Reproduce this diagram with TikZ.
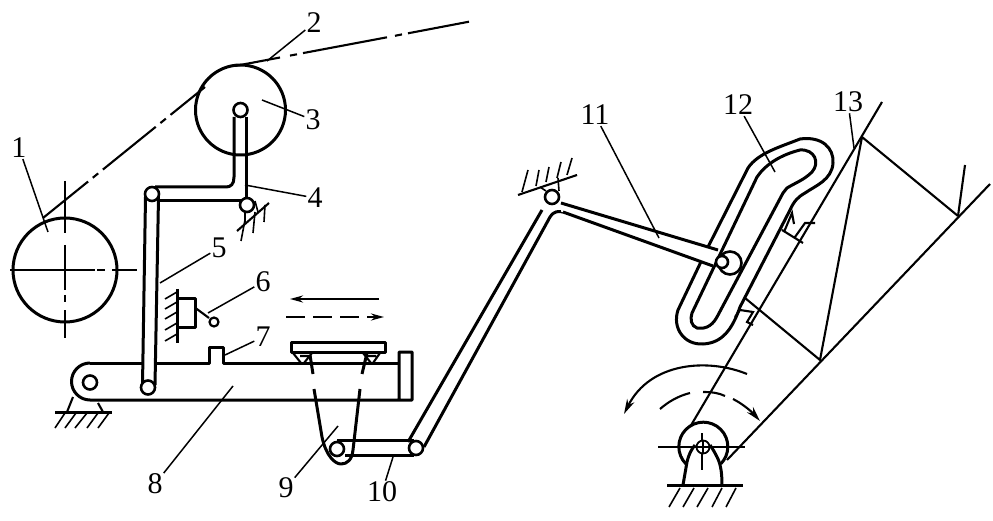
\documentclass[tikz,border=0pt]{standalone}
\usepackage{tikz}
\usepackage{fontspec}
\setmainfont{Liberation Serif}
\usetikzlibrary{arrows.meta}
\begin{document}
\begin{tikzpicture}[x=1pt,y=-1pt,
thickline/.style={line width=3pt, line join=round},
thinline/.style={line width=2.1pt},
leader/.style={line width=1.5pt},
hatchline/.style={line width=1.6pt},
pivot/.style={circle, draw, fill=white, line width=2.6pt, inner sep=0pt, minimum size=14pt},
numlabel/.style={inner sep=1pt, font=\fontsize{30}{30}\selectfont}
]
\useasboundingbox (0,0) rectangle (993,521);

% rolls and yarn
\draw[thickline] (240.5,110) circle [radius=45];
\draw[thickline] (65,270) circle [radius=52];
\draw[hatchline, dash pattern=on 85pt off 2pt on 8pt off 7pt on 99pt] (10,270) -- (137,270);
\draw[hatchline, dash pattern=on 52pt off 12pt on 45pt off 5pt on 7pt off 8pt on 99pt] (65,181) -- (65,338);
\draw[thinline, dash pattern=on 68pt off 6pt on 7pt off 6pt, dash phase=10pt] (43,218) -- (205,87);
\draw[thinline] (236,65.8) -- (280,57.5) (290,55.6) -- (297,54.3) (303,53.1) -- (387,37.3) (395,35.8) -- (402,34.4) (408,33.3) -- (469,21.7);

% arm 4
\draw[thickline] (234,117) -- (234,177) .. controls (234,184) and (231,187) .. (226,187) -- (155,187);
\draw[thickline] (246,117) -- (246,200);
\draw[thickline] (158,200.5) -- (242,200.5);
\node[pivot] (P3) at (240.5,110) {};
\node[pivot] (P4) at (247,205) {};
\draw[thinline] (237,231) -- (269,203);
\draw[hatchline] (245,211) -- (245,222) (255,201) -- (258,212);
\draw[hatchline] (245,220) -- (241,241) (255,212) -- (253,233) (265,205) -- (264,222);

% link 5 and frame 8
\draw[thickline] (145.5,197) -- (142.5,385);
\draw[thickline] (158.5,197) -- (155,385);
\node[pivot] (P5t) at (152,194) {};
\draw[thickline] (90,363) -- (143,363);
\draw[thickline] (157,363) -- (209,363) -- (209,347) -- (223,347) -- (223,363) -- (399,363);
\draw[thickline] (90,363) arc (270:90:18.5) -- (412,400) -- (412,352) -- (399,352) -- (399,400);
\node[pivot] (P8) at (90,382.5) {};
\node[pivot] (P5b) at (148,387.5) {};
\draw[thinline] (73,397) -- (67,412) (98,403) -- (103,412);
\draw[thickline] (55,412) -- (112,412);
\draw[hatchline] (65,413) -- (55,428) (76,413) -- (65,428) (87,413) -- (75,428) (98,413) -- (87,428) (109,413) -- (98,428);

% stop 6 and arrows
\draw[thickline] (177,289) -- (177,343);
\draw[hatchline] (177,292) -- (165,299) (177,302) -- (165,309) (177,312) -- (165,319) (177,323) -- (165,330) (177,334) -- (165,341);
\draw[thickline] (177,299) -- (195.5,299) -- (195.5,327) -- (177,327);
\draw[thinline] (195.5,308) -- (209,318);
\node[pivot, minimum size=9pt, line width=2.2pt] (P6) at (214,322) {};
\draw[thinline, -{Stealth[length=13pt,width=7pt]}] (379,299) -- (290,299);
\draw[thinline, dash pattern=on 19pt off 8pt, -{Stealth[length=13pt,width=7pt]}] (286,317) -- (384,317);

% plate on frame 8
\draw[thickline] (291,342) rectangle (385,352);
\draw[thinline] (293,353) -- (301,363) (312,353) -- (304,363) (300,356) -- (311,356);
\draw[thinline] (380,353) -- (373,363) (363,353) -- (371,363) (365,356) -- (376,356);

% cam 9 and link 10
\draw[thickline] (310,355) -- (313,374) (314,389) -- (322,437) .. controls (326,456) and (335,464) .. (341,464) .. controls (347,464) and (352,460) .. (353,450) -- (360,389) (362,374) -- (367,353);
\draw[thickline] (337,440) -- (414,440) (345,455) -- (414,455);
\draw[thickline] (408,442) -- (542,210);
\draw[thickline] (424,447) -- (550,217) .. controls (554,211) and (558,211) .. (563,212);
\node[pivot] (P9) at (337,449) {};
\node[pivot] (P10) at (416,448) {};

% slot 12
\draw[thickline] (708,247) -- (748,168) .. controls (758,153) and (780,147) .. (800,139) .. controls (822,136) and (834,148) .. (833,163) .. controls (832,180) and (815,186) .. (805,193) .. controls (798,197) and (794,201) .. (790,210) -- (740,307) .. controls (732,330) and (722,343) .. (703,344) .. controls (684,345) and (672,328) .. (678,310) -- cycle;
\draw[thickline] (692,313) -- (757,177) .. controls (765,165) and (780,155) .. (800,150) .. controls (815,149) and (820,163) .. (812,172) .. controls (804,180) and (795,183) .. (787,188) -- (783,193) -- (717,317) .. controls (711,328) and (703,329) .. (697,328) .. controls (691,326) and (690,319) .. (692,313);

% lever 11
\fill[white] (561,203) -- (718,250) -- (713,266) -- (561,211.5) -- cycle;
\draw[thickline] (561,203) -- (718,250) (563,212) -- (713,266);
\node[pivot] (P11) at (552,197) {};
\draw[thinline] (518,195) -- (577,175);
\draw[hatchline] (546,191) -- (540,187) (559,191) -- (558,178);
\draw[hatchline] (522,192) -- (528,170) (536,186) -- (539,170) (546,182) -- (549,167) (557,178) -- (561,162) (567,175) -- (572,158);
\node[pivot, minimum size=23pt] (P12) at (730,263) {};
\node[pivot, minimum size=12pt] (P12i) at (722,262) {};

% lever 13
\draw[thinline] (882,102) -- (690,427);
\draw[thinline] (990,184) -- (727,460);
\draw[thinline] (862,137) -- (958,216) (862,137) -- (820,360) -- (745,298) (965,165) -- (958,216);
\draw[thinline] (782,230) -- (803,243) (784,232) -- (792,213) -- (794,224) (795,237) -- (805,223) -- (815,223);
\draw[thinline] (735,317) -- (740,310) -- (753,312) -- (747,322) -- (753,325);

% bearing of lever 13
\draw[thickline] (686,464) arc (135:405:24.5);
\draw[thinline] (658,447) -- (745,447) (702,433) -- (702,470);
\draw[thickline] (683,485) -- (687,462) .. controls (689,454) and (691,450) .. (695,445) (722,485) .. controls (722,470) and (720,462) .. (716,455) .. controls (714,451) and (712,448) .. (710,445);
\draw[thickline] (667,485) -- (743,485);
\node[pivot, minimum size=13pt, line width=1.8pt] (P13) at (703,447) {};
\draw[hatchline] (696,447) -- (710,447) (703,440) -- (703,454);
\draw[hatchline] (680,488) -- (669,507) (694,488) -- (683,507) (708,488) -- (697,507) (722,488) -- (712,507) (736,488) -- (726,507);
\draw[thinline, -{Stealth[length=15pt,width=8pt]}] (747,374) .. controls (708,358) and (650,362) .. (624,414);
\draw[thinline] (660,409) .. controls (668,402) and (678,396) .. (690,393) (703,392) .. controls (712,392) and (719,393) .. (725,396);
\draw[thinline, -{Stealth[length=15pt,width=8pt]}] (733,399) .. controls (743,404) and (752,412) .. (760,421);

% labels and leaders
\node[numlabel] (L1) at (19,148) {1};
\node[numlabel] (L2) at (314,23) {2};
\node[numlabel] (L3) at (313,120) {3};
\node[numlabel] (L4) at (315,198) {4};
\node[numlabel] (L5) at (219,248) {5};
\node[numlabel] (L6) at (263,282) {6};
\node[numlabel] (L7) at (263,337) {7};
\node[numlabel] (L8) at (155,484) {8};
\node[numlabel] (L9) at (286,488) {9};
\node[numlabel] (L10) at (382,492) {10};
\node[numlabel] (L11) at (595,115) {11};
\node[numlabel] (L12) at (738,105) {12};
\node[numlabel] (L13) at (848,102) {13};
\coordinate (E1) at (48,232);
\coordinate (E2) at (267,61);
\coordinate (E3) at (262,100);
\coordinate (E4) at (245,185);
\coordinate (E5) at (160,283);
\coordinate (E6) at (208,313);
\coordinate (E7) at (225,355);
\coordinate (E8) at (233,386);
\coordinate (E9) at (338,426);
\coordinate (E10) at (393,457);
\coordinate (E11) at (659,238);
\coordinate (E12) at (775,172);
\coordinate (E13) at (854,148);
\draw[leader] (L1) -- (E1);
\draw[leader] (L2) -- (E2);
\draw[leader] (L3) -- (E3);
\draw[leader] (L4) -- (E4);
\draw[leader] (L5) -- (E5);
\draw[leader] (L6) -- (E6);
\draw[leader] (L7) -- (E7);
\draw[leader] (L8) -- (E8);
\draw[leader] (L9) -- (E9);
\draw[leader] (L10) -- (E10);
\draw[leader] (L11) -- (E11);
\draw[leader] (L12) -- (E12);
\draw[leader] (L13) -- (E13);
\end{tikzpicture}
\end{document}
